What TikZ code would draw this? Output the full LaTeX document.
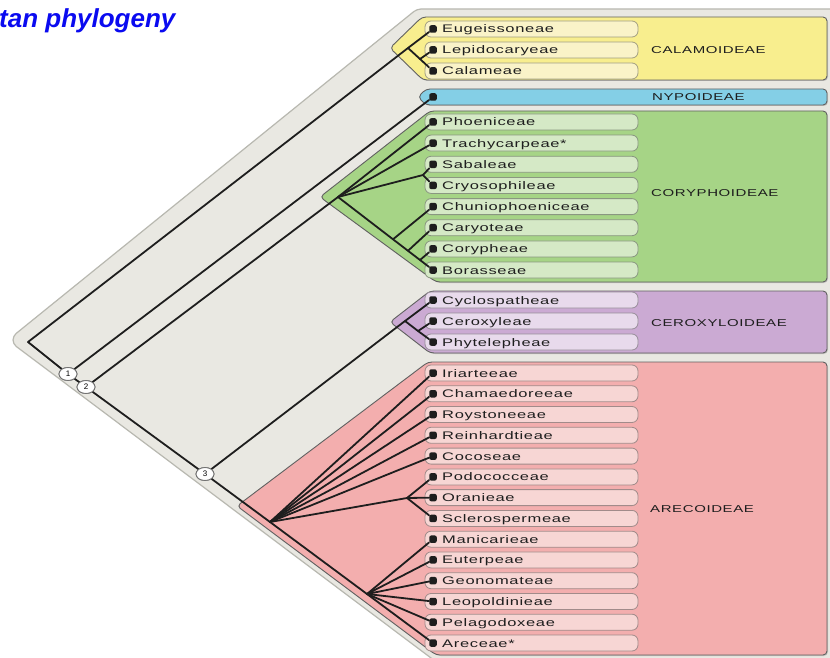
\documentclass[tikz,border=0pt]{standalone}
\usepackage{fontspec}
\setmainfont{Liberation Sans}
\newfontfamily\lblfont[FakeStretch=1.5,LetterSpace=6]{Liberation Sans}
\usetikzlibrary{shapes.geometric,shadows}
\definecolor{bgray}{HTML}{E9E8E2}
\definecolor{bline}{HTML}{B8B8B0}
\definecolor{yel}{HTML}{F8EE8E}
\definecolor{yelp}{HTML}{FAF3C8}
\definecolor{blu}{HTML}{84CFE6}
\definecolor{grn}{HTML}{A6D486}
\definecolor{grnp}{HTML}{D5E9C6}
\definecolor{pur}{HTML}{CBAAD3}
\definecolor{purp}{HTML}{E8DAEC}
\definecolor{pnk}{HTML}{F3AEAE}
\definecolor{pnkp}{HTML}{F7D6D4}
\definecolor{ink}{HTML}{1E1E1E}
\definecolor{titleblue}{HTML}{0A0AF0}
\newcommand\tribe[4]{%
  \path[fill=#4, draw=#4!65!black, line width=0.8pt, rounded corners=6pt] (425,#2-8) rectangle (638,#2+8);
  \node[dotst] (#1) at (433,#2) {};
  \node[lblst] at (442,#2+4) {#3};}
\begin{document}
\begin{tikzpicture}[x=1pt,y=-1pt,
  edge/.style={draw=ink, line width=1.8pt, line cap=round, line join=round},
  dotst/.style={rectangle, rounded corners=2pt, fill=ink, inner sep=0pt, minimum size=7.5pt},
  lblst/.style={anchor=base west, inner sep=0pt, font=\lblfont\fontsize{11}{12}\selectfont, text=ink},
  sublbl/.style={anchor=base west, inner sep=0pt, font=\lblfont\fontsize{10}{12}\selectfont, text=ink},
  region/.style={draw=black!62, line width=0.9pt, rounded corners=4pt, drop shadow={shadow xshift=1pt, shadow yshift=-1pt, opacity=0.35}},
  numc/.style={ellipse, draw=black!55, fill=white, line width=0.9pt, minimum width=18pt, minimum height=13pt, inner sep=0pt, font=\fontsize{8}{8}\selectfont}]
\useasboundingbox (0,0) rectangle (830,658);
\clip (0,0) rectangle (830,658);
\fill[white] (0,0) rectangle (830,658);
% background
\draw[fill=bgray, draw=bline, line width=1.2pt, rounded corners=4pt]
  (13,336) -- (417,9) -- (840,9) -- (840,670) -- (447,670) -- (13,344) -- cycle;
% title
\node[anchor=base west, inner sep=0pt, text=titleblue, font=\fontsize{26}{29}\selectfont\bfseries\itshape] (title) at (-1,28) {tan phylogeny};
% regions
\draw[region, fill=yel] (422,17) -- (827,17) -- (827,80) -- (423,80) -- (390,48) -- cycle;
\draw[region, fill=blu] (426,89) -- (827,89) -- (827,105) -- (426,105) -- (418,97) -- cycle;
\draw[region, fill=grn] (430,111) -- (827,111) -- (827,282) -- (436,282) -- (320,197) -- cycle;
\draw[region, fill=pur] (430,291) -- (827,291) -- (827,353) -- (430,353) -- (390,322) -- cycle;
\draw[region, fill=pnk] (428,362) -- (827,362) -- (827,655) -- (436,655) -- (237,506) -- cycle;
% subfamily labels
\node[sublbl] (calL) at (651,54) {CALAMOIDEAE};
\node[sublbl] (nypL) at (652,101) {NYPOIDEAE};
\node[sublbl] (corL) at (651,196) {CORYPHOIDEAE};
\node[sublbl] (cerL) at (651,326) {CEROXYLOIDEAE};
\node[sublbl] (areL) at (650,512) {ARECOIDEAE};
% tribes
\tribe{eug}{29}{Eugeissoneae}{yelp}
\tribe{lep}{50}{Lepidocaryeae}{yelp}
\tribe{cala}{71}{Calameae}{yelp}
\node[dotst] (nyp) at (433,97) {};
\tribe{pho}{122}{Phoeniceae}{grnp}
\tribe{tra}{143.1}{Trachycarpeae*}{grnp}
\tribe{sab}{164.3}{Sabaleae}{grnp}
\tribe{cry}{185.4}{Cryosophileae}{grnp}
\tribe{chu}{206.6}{Chuniophoeniceae}{grnp}
\tribe{car}{227.7}{Caryoteae}{grnp}
\tribe{cory}{248.9}{Corypheae}{grnp}
\tribe{bor}{270}{Borasseae}{grnp}
\tribe{cyc}{300}{Cyclospatheae}{purp}
\tribe{cer}{321}{Ceroxyleae}{purp}
\tribe{phy}{342}{Phytelepheae}{purp}
\tribe{iri}{373}{Iriarteeae}{pnkp}
\tribe{cha}{393.8}{Chamaedoreeae}{pnkp}
\tribe{roy}{414.5}{Roystoneeae}{pnkp}
\tribe{rei}{435.3}{Reinhardtieae}{pnkp}
\tribe{coc}{456.1}{Cocoseae}{pnkp}
\tribe{pod}{476.9}{Podococceae}{pnkp}
\tribe{ora}{497.6}{Oranieae}{pnkp}
\tribe{scl}{518.4}{Sclerospermeae}{pnkp}
\tribe{man}{539.2}{Manicarieae}{pnkp}
\tribe{eut}{559.9}{Euterpeae}{pnkp}
\tribe{geo}{580.7}{Geonomateae}{pnkp}
\tribe{leo}{601.5}{Leopoldinieae}{pnkp}
\tribe{pel}{622.2}{Pelagodoxeae}{pnkp}
\tribe{arc}{643}{Areceae*}{pnkp}
% tree nodes
\coordinate (root) at (28,342);
\node[numc] (n1) at (68,374) {1};
\node[numc] (n2) at (86,387) {2};
\node[numc] (n3) at (205,474) {3};
\coordinate (kcal) at (408,48);
\coordinate (kcalb) at (420,59);
\coordinate (kcor) at (338,197);
\coordinate (ksc) at (423,175);
\coordinate (kb1) at (393,239.3);
\coordinate (kb2) at (408,250.8);
\coordinate (kb3) at (420,260);
\coordinate (kcer) at (405,321);
\coordinate (kcb) at (418,331);
\coordinate (kare) at (270,522);
\coordinate (kpod) at (407,498);
\coordinate (kman) at (367,594);
% edges
\draw[edge] (n1) -- (root) -- (kcal) -- (eug);
\draw[edge] (kcal) -- (kcalb) -- (cala);
\draw[edge] (kcalb) -- (lep);
\draw[edge] (n1) -- (nyp);
\draw[edge] (n1) -- (n2);
\draw[edge] (n2) -- (kcor) -- (pho);
\draw[edge] (kcor) -- (tra);
\draw[edge] (kcor) -- (ksc) -- (sab);
\draw[edge] (ksc) -- (cry);
\draw[edge] (kcor) -- (kb1) -- (kb2) -- (kb3) -- (bor);
\draw[edge] (kb1) -- (chu);
\draw[edge] (kb2) -- (car);
\draw[edge] (kb3) -- (cory);
\draw[edge] (n2) -- (n3);
\draw[edge] (n3) -- (kcer) -- (cyc);
\draw[edge] (kcer) -- (kcb) -- (phy);
\draw[edge] (kcb) -- (cer);
\draw[edge] (n3) -- (kare);
\foreach \t in {iri,cha,roy,rei,coc} \draw[edge] (kare) -- (\t);
\draw[edge] (kare) -- (kpod) -- (ora);
\draw[edge] (kpod) -- (pod);
\draw[edge] (kpod) -- (scl);
\draw[edge] (kare) -- (kman) -- (arc);
\foreach \t in {man,eut,geo,leo,pel} \draw[edge] (kman) -- (\t);
% redraw circles on top
\node[numc] at (n1) {1};
\node[numc] at (n2) {2};
\node[numc] at (n3) {3};
\end{tikzpicture}
\end{document}
